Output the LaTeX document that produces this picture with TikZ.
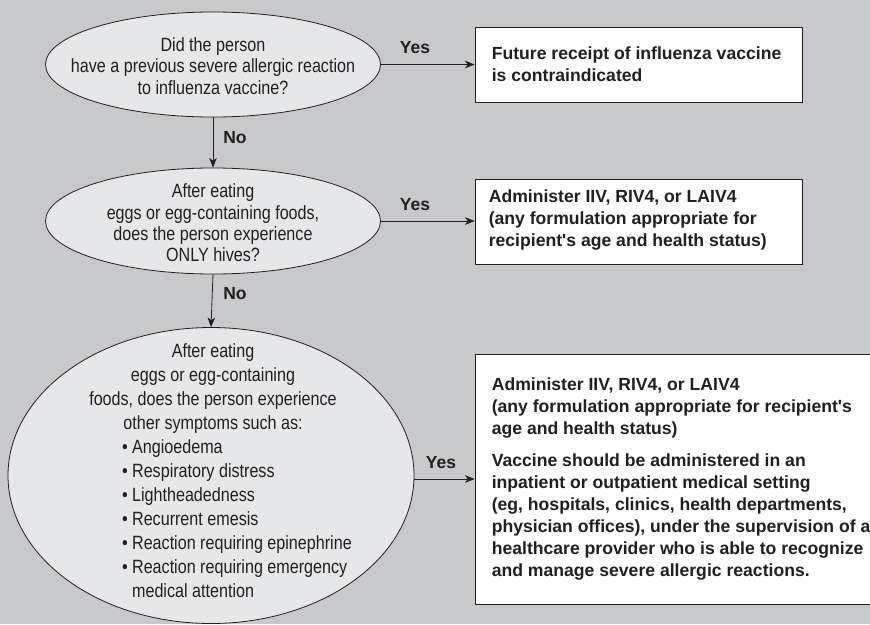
\documentclass[tikz,border=0pt]{standalone}
\usepackage{fontspec}
\setmainfont{Liberation Sans}[Ligatures=TeXOff]
\newfontfamily\condfont{Liberation Sans}[FakeStretch=0.84,Ligatures=TeXOff]
\usetikzlibrary{shapes.geometric,arrows.meta}
\definecolor{bg}{HTML}{C8C9CB}
\definecolor{ellfill}{HTML}{E6E7E8}
\definecolor{ink}{HTML}{231F20}
\begin{document}
\begin{tikzpicture}[x=1pt,y=-1pt,
  question/.style={ellipse, draw=ink, line width=0.8pt, fill=ellfill, inner sep=0pt},
  qtext/.style={align=center, text=ink, font=\condfont\fontsize{19.2}{21.3}\selectfont, inner sep=0pt},
  answer/.style={rectangle, draw=ink, line width=0.8pt, fill=white, inner sep=0pt},
  atext/.style={align=left, text=ink, font=\bfseries\fontsize{17.6}{22}\selectfont, inner sep=0pt, anchor=west},
  lbl/.style={text=ink, font=\bfseries\fontsize{17.5}{20}\selectfont, inner sep=0pt},
  arr/.style={-{Stealth[length=9.5pt,width=7.5pt,inset=2.5pt]}, line width=0.8pt, draw=ink}
]
\fill[bg] (0,0) rectangle (870,624);
\useasboundingbox (0,0) rectangle (870,624);

% questions
\node[question, minimum width=335pt, minimum height=105pt] (q1) at (213,64.5) {};
\node[qtext] (q1t) at (213,66) {Did the person\\have a previous severe allergic reaction\\to influenza vaccine?};

\node[question, minimum width=335pt, minimum height=106pt] (q2) at (213,221) {};
\node[qtext] (q2t) at (213,223) {After eating\\eggs or egg-containing foods,\\does the person experience\\ONLY hives?};

\node[question, minimum width=406pt, minimum height=296pt] (q3) at (211,475.5) {};
\node[qtext, font=\condfont\fontsize{19.2}{24}\selectfont] (q3t) at (213,471) {After eating\\eggs or egg-containing\\foods, does the person experience\\other symptoms such as:\\
\makebox[182pt][l]{\textbullet\ Angioedema}\\
\makebox[182pt][l]{\textbullet\ Respiratory distress}\\
\makebox[182pt][l]{\textbullet\ Lightheadedness}\\
\makebox[182pt][l]{\textbullet\ Recurrent emesis}\\
\makebox[182pt][l]{\textbullet\ Reaction requiring epinephrine}\\
\makebox[182pt][l]{\textbullet\ Reaction requiring emergency}\\
\makebox[182pt][l]{\phantom{\textbullet\ }medical attention}};

% answers
\node[answer, minimum width=327pt, minimum height=75pt] (a1) at (638.5,64.5) {};
\node[atext] (a1t) at ([xshift=17pt]a1.west) {Future receipt of influenza vaccine\\is contraindicated};

\node[answer, minimum width=327pt, minimum height=85pt] (a2) at (638.5,221.5) {};
\node[atext] (a2t) at ([xshift=14pt,yshift=2pt]a2.west) {Administer IIV, RIV4, or LAIV4\\(any formulation appropriate for\\recipient's age and health status)};

\node[answer, minimum width=400pt, minimum height=250pt] (a3) at (675,479) {};
\node[atext] (a3t) at ([xshift=17pt]a3.west) {Administer IIV, RIV4, or LAIV4\\(any formulation appropriate for recipient's\\age and health status)\\[10pt]
Vaccine should be administered in an\\inpatient or outpatient medical setting\\(eg, hospitals, clinics, health departments,\\physician offices), under the supervision of a\\healthcare provider who is able to recognize\\and manage severe allergic reactions.};

% connectors
\draw[arr] (q1.east) -- (q1.east -| a1.west);
\draw[arr] (q2.east) -- (q2.east -| a2.west);
\draw[arr] (q3.east |- a3.west) -- (a3.west);
\draw[arr] (q1.south) -- (q2.north);
\draw[arr] (q2.south) -- (q3.north);

% labels
\node[lbl] (y1) at (415,48) {Yes};
\node[lbl] (y2) at (415,205) {Yes};
\node[lbl] (y3) at (441,463) {Yes};
\node[lbl] (n1) at (235,138) {No};
\node[lbl] (n2) at (235,294) {No};
\end{tikzpicture}
\end{document}
